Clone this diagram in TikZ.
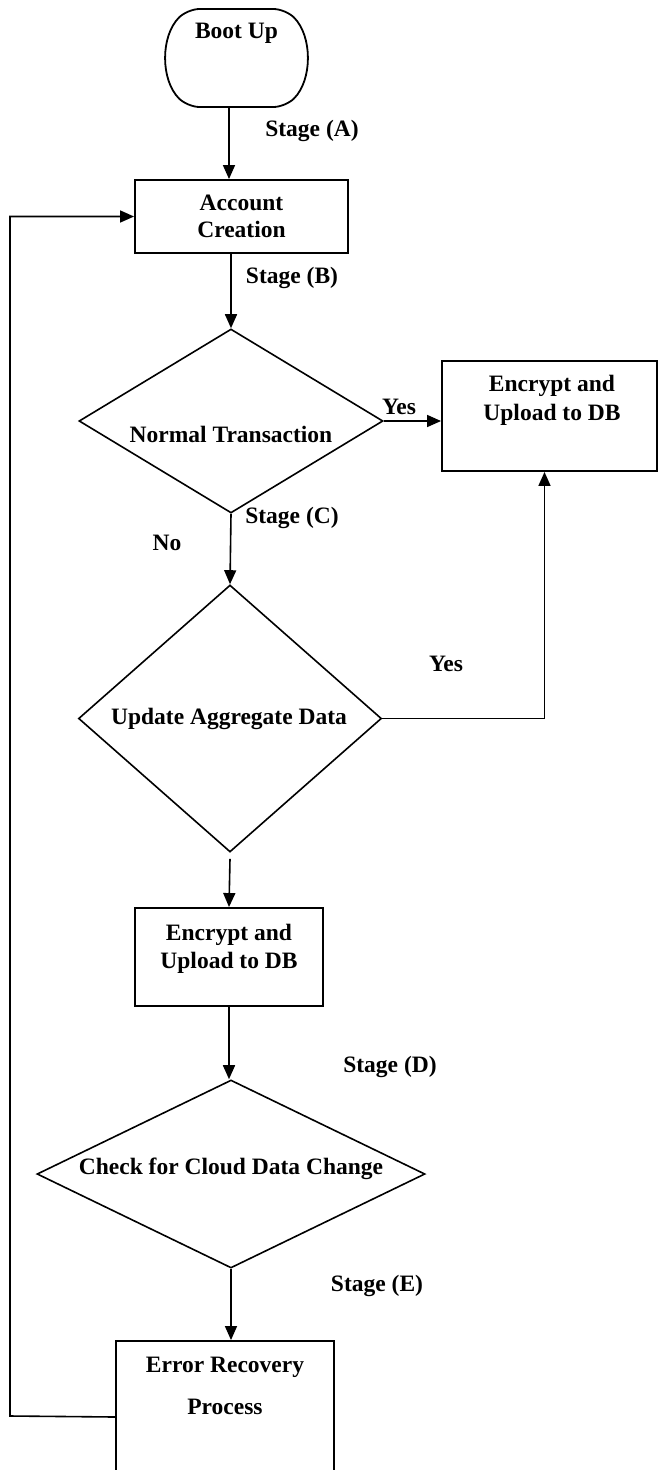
\documentclass[tikz,border=0pt]{standalone}
\usepackage{fontspec}
\setmainfont{Liberation Serif}
\usetikzlibrary{arrows.meta, positioning, shapes.geometric, shapes.misc}

\begin{document}
\begin{tikzpicture}[
    x=1pt, y=-1pt,
    >={Triangle[length=14pt, width=12pt]},
    txt/.style={font=\fontsize{23.5}{27}\selectfont\bfseries, align=center, inner sep=0pt},
    term/.style={draw, line width=1.8pt, rounded rectangle, rounded rectangle arc length=90, rounded corners=12pt, minimum width=137pt, minimum height=98pt, inner sep=0pt},
    proc/.style={draw, line width=1.9pt, inner sep=0pt},
    decide/.style={draw, line width=1.6pt, diamond, inner sep=0pt},
    flow/.style={->, line width=1.6pt},
]
\clip (0,0) rectangle (658,1470);
\fill[white] (0,0) rectangle (658,1470);
% ----- main column
\node[term] (boot) at (236.5,58) {};
\node[txt] (boottxt) at (236.5,33) {Boot Up};
\node[proc, txt, minimum width=213pt, minimum height=73pt] (acc) at (241.5,216.5) {Account\\Creation};
\node[decide, minimum width=304pt, minimum height=184pt] (normal) at (231,421) {};
\node[txt] (normaltxt) at (231,434) {Normal Transaction};
\node[decide, minimum width=303pt, minimum height=267pt] (update) at (230,718.5) {};
\node[txt] (updatetxt) at (229,719) {Update Aggregate Data};
\node[proc, minimum width=188pt, minimum height=98pt] (enc2) at (229,957) {};
\node[txt] (enc2txt) at (229,949) {Encrypt and\\[1pt]Upload to DB};
\node[decide, minimum width=388pt, minimum height=188pt] (check) at (231,1174) {};
\node[txt] (checktxt) at (231,1169) {Check for Cloud Data Change};
\node[proc, minimum width=218pt, minimum height=150pt] (err) at (225,1416) {};
\node[txt] (errtxt) at (225,1386) {Error Recovery\\[15pt]Process};
% ----- side box
\node[proc, minimum width=215pt, minimum height=110pt] (enc1) at (549.5,416) {};
\node[txt] (enc1txt) at (552,400) {Encrypt and\\[2pt]Upload to DB};
% ----- labels
\node[txt] (stagea) at (312,131) {Stage (A)};
\node[txt] (stageb) at (292,278) {Stage (B)};
\node[txt] (yes1) at (399,407) {Yes};
\node[txt] (stagec) at (292,518) {Stage (C)};
\node[txt] (no) at (167,543) {No};
\node[txt] (yes2) at (446,664) {Yes};
\node[txt] (staged) at (390,1067) {Stage (D)};
\node[txt] (stagee) at (377,1286) {Stage (E)};
% ----- connectors
\draw[flow] ([xshift=-7.5pt]boot.south) -- ([xshift=-12.5pt]acc.north);
\draw[flow] ([xshift=-10.5pt]acc.south) -- (normal.north);
\draw[flow] (normal.east) -- (normal.east -| enc1.west);
\draw[flow] (normal.south) -- (update.north);
\draw[flow] (update.east) -| ([xshift=-5pt]enc1.south);
\draw[flow] ([yshift=-6pt]update.south) -- (enc2.north);
\draw[flow] (enc2.south) -- (enc2.south |- check.north);
\draw[flow] (check.south) -- (check.south |- err.north);
\coordinate (back) at (10,0);
\draw[flow] ([yshift=-1pt]err.west) -- (err.west -| back) -- (acc.west -| back) -- (acc.west);
\end{tikzpicture}
\end{document}
